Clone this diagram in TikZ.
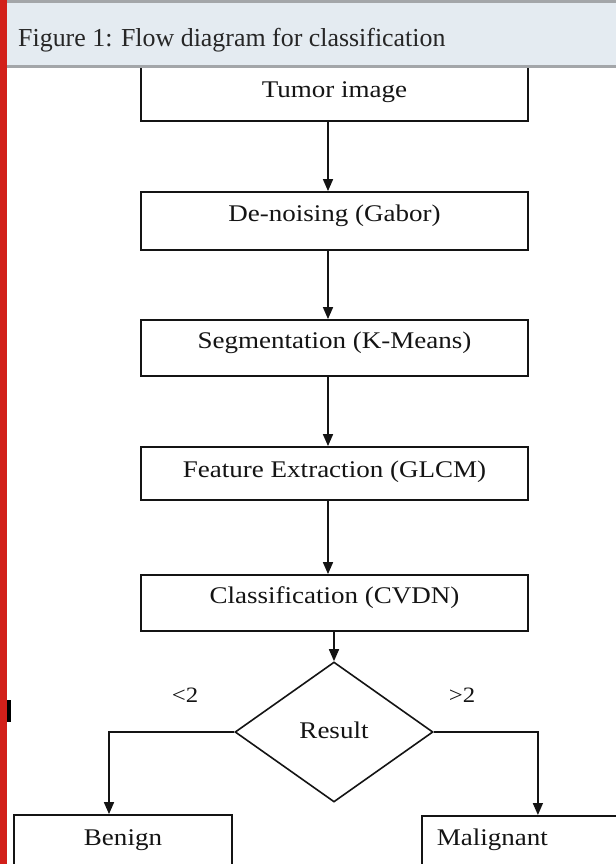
\documentclass[tikz,border=0pt]{standalone}
\usepackage{fontspec}
\setmainfont{Liberation Serif}
\usetikzlibrary{shapes.geometric,arrows.meta}

\definecolor{railred}{HTML}{D2201A}
\definecolor{headbg}{HTML}{E4EBF1}
\definecolor{headrule}{HTML}{A3A6A9}
\definecolor{titleink}{HTML}{262626}
\definecolor{ink}{HTML}{141414}

% slightly widened lettering used inside the flowchart
\newcommand{\wideword}[1]{\scalebox{1.13}[1]{#1}}

\begin{document}
\begin{tikzpicture}[x=1bp,y=-1bp,
  box/.style={draw=ink, line width=1.8bp, rectangle, inner sep=0pt,
    minimum width=387bp, text height=9bp, text depth=9bp,
    font=\fontsize{24}{28}\selectfont, text=ink},
  decision/.style={diamond, draw=ink, line width=1.6bp, inner sep=0pt,
    minimum width=198bp, minimum height=140bp, text height=16bp, text depth=4bp,
    font=\fontsize{24}{28}\selectfont, text=ink},
  branchlabel/.style={inner sep=0pt, font=\fontsize{22}{26}\selectfont, text=ink},
  arr/.style={draw=ink, line width=1.6bp, -{Triangle[length=12bp,width=10bp]}},
]
\useasboundingbox (0,0) rectangle (616,864);
\clip (0,0) rectangle (616,864);
\fill[white] (0,0) rectangle (616,864);

% process boxes
\node[box, minimum height=66bp, text height=20bp, text depth=2bp] (tumor) at (334.5,88) {\wideword{Tumor image}};
\node[box, minimum height=58bp] (denoise) at (334.5,221) {\wideword{De-noising (Gabor)}};
\node[box, minimum height=56bp] (segment) at (334.5,348) {\wideword{Segmentation (K-Means)}};
\node[box, minimum height=53bp, text height=12.5bp, text depth=5.5bp] (feature) at (334.5,473.5) {\wideword{Feature Extraction (GLCM)}};
\node[box, minimum height=56bp] (classify) at (334.5,603) {\wideword{Classification (CVDN)}};

% decision and outcomes
\node[decision] (result) at (334,732) {\wideword{Result}};
\node[box, minimum width=218bp, minimum height=60bp] (benign) at (123,845) {\wideword{Benign}};
\node[box, anchor=north west, minimum width=0pt, minimum height=60bp,
      inner xsep=15bp, text width=198bp, align=left] (malignant) at (421,815) {\wideword{Malignant}};

\node[branchlabel] (less) at (185,695) {\wideword{<2}};
\node[branchlabel] (more) at (462,695) {\wideword{>2}};

% connectors
\draw[arr] ([xshift=-6.5bp]tumor.south) -- ([xshift=-6.5bp]denoise.north);
\draw[arr] ([xshift=-6.5bp]denoise.south) -- ([xshift=-6.5bp]segment.north);
\draw[arr] ([xshift=-6.5bp]segment.south) -- ([xshift=-6.5bp]feature.north);
\draw[arr] ([xshift=-6.5bp]feature.south) -- ([xshift=-6.5bp]classify.north);
\draw[arr] (classify.south -| result.north) -- (result.north);
\draw[arr] (result.west) -| ([xshift=-14bp]benign.north);
\draw[arr] (result.east) -| ([xshift=2bp]malignant.north);

% caption header
\fill[headbg] (7,0) rectangle (616,66);
\fill[headrule] (7,0) rectangle (616,3);
\fill[headrule] (7,65) rectangle (616,67.5);
\node[anchor=base west, inner sep=0pt, font=\fontsize{26}{30}\selectfont, text=titleink] (title) at (18,46)
  {Figure 1: Flow diagram for classification};

% left margin rail and tick
\fill[railred] (0,0) rectangle (7,864);
\fill[black] (7,700) rectangle (10.5,722);
\end{tikzpicture}
\end{document}
